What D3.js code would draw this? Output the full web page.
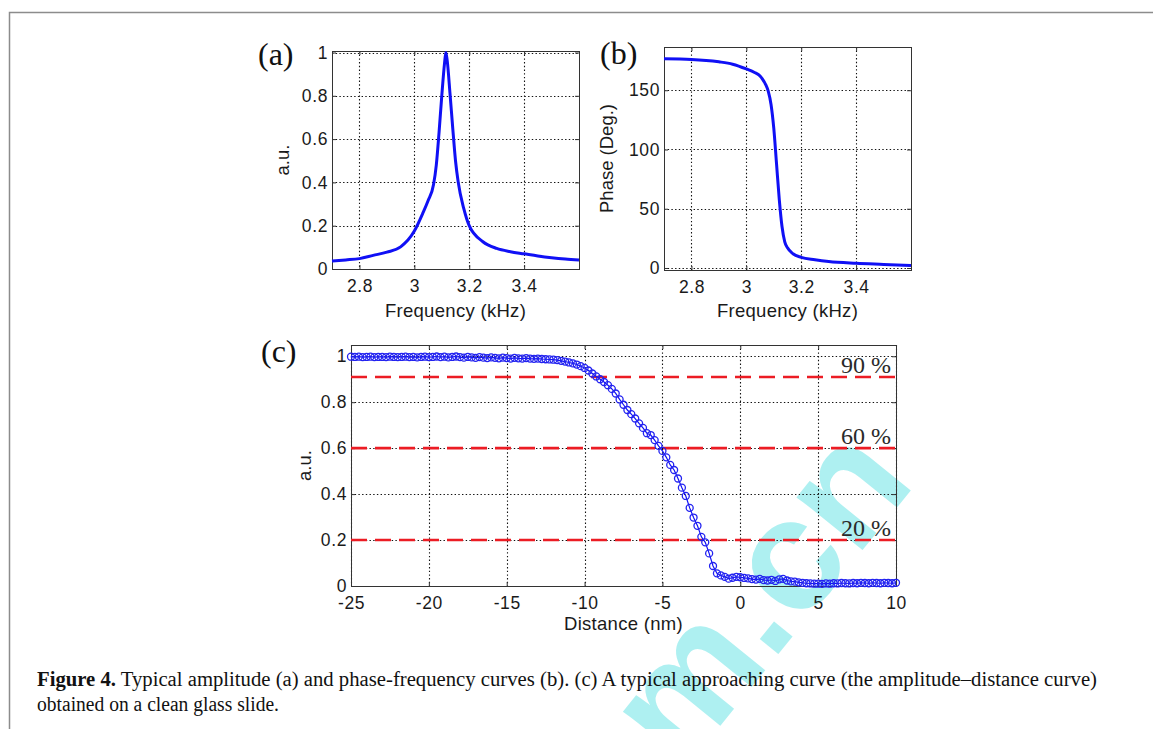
<!DOCTYPE html>
<html><head><meta charset="utf-8">
<script src="https://cdn.jsdelivr.net/npm/d3@7"></script>
<style>body{margin:0;background:#fff}svg{display:block}</style>
</head><body>
<svg id="chart" width="1153" height="729"></svg>
<script>
// ---------- data ----------
const freqA = [2.70,2.75,2.80,2.85,2.90,2.95,3.00,3.03,3.05,3.07,3.08,3.09,3.10,3.11,3.115,3.12,3.13,3.14,3.15,3.16,3.18,3.20,3.25,3.30,3.35,3.40,3.45,3.50,3.55,3.60];
const ampA  = [0.037,0.042,0.048,0.063,0.078,0.102,0.175,0.255,0.315,0.39,0.48,0.63,0.80,0.95,1.0,0.96,0.81,0.65,0.50,0.40,0.28,0.20,0.126,0.095,0.080,0.070,0.060,0.052,0.046,0.042];

const freqB  = [2.70,2.80,2.90,2.95,3.00,3.03,3.05,3.06,3.07,3.08,3.09,3.10,3.11,3.12,3.13,3.14,3.15,3.17,3.20,3.25,3.30,3.40,3.50,3.60];
const phaseB = [176.5,176,174,172,168,165,162,159,155,149,138,118,88,58,35,22,17,12,9,7,5.5,4,3,2];

const distC = [-25,-24.75,-24.5,-24.25,-24,-23.75,-23.5,-23.25,-23,-22.75,-22.5,-22.25,-22,-21.75,-21.5,-21.25,-21,-20.75,-20.5,-20.25,-20,-19.75,-19.5,-19.25,-19,-18.75,-18.5,-18.25,-18,-17.75,-17.5,-17.25,-17,-16.75,-16.5,-16.25,-16,-15.75,-15.5,-15.25,-15,-14.75,-14.5,-14.25,-14,-13.75,-13.5,-13.25,-13,-12.75,-12.5,-12.25,-12,-11.75,-11.5,-11.25,-11,-10.75,-10.5,-10.25,-10,-9.75,-9.5,-9.25,-9,-8.75,-8.5,-8.25,-8,-7.75,-7.5,-7.25,-7,-6.75,-6.5,-6.25,-6,-5.75,-5.5,-5.25,-5,-4.75,-4.5,-4.25,-4,-3.75,-3.5,-3.25,-3,-2.75,-2.5,-2.25,-2,-1.75,-1.5,-1.25,-1,-0.75,-0.5,-0.25,0,0.25,0.5,0.75,1,1.25,1.5,1.75,2,2.25,2.5,2.75,3,3.25,3.5,3.75,4,4.25,4.5,4.75,5,5.25,5.5,5.75,6,6.25,6.5,6.75,7,7.25,7.5,7.75,8,8.25,8.5,8.75,9,9.25,9.5,9.75,10];
const ampC = [
 0.998,0.997,0.998,0.996,0.997,0.998,0.996,0.997,0.997,0.996,
 0.998,0.997,0.996,0.997,0.998,0.996,0.997,0.995,0.997,0.998,
 0.996,0.997,0.999,0.996,0.998,0.995,0.997,0.999,0.996,0.994,
 0.997,0.995,0.993,0.996,0.994,0.992,0.995,0.993,0.991,0.994,
 0.992,0.990,0.993,0.991,0.990,0.992,0.990,0.989,0.990,0.988,
 0.987,0.986,0.985,0.983,0.980,0.977,0.973,0.969,0.964,0.957,
 0.949,0.938,0.925,0.912,0.900,0.888,0.874,0.858,0.838,0.812,
 0.789,0.766,0.748,0.729,0.708,0.688,0.665,0.657,0.635,0.610,
 0.588,0.560,0.527,0.505,0.468,0.428,0.392,0.340,0.298,0.262,
 0.214,0.190,0.142,0.087,0.055,0.046,0.040,0.032,0.036,0.040,
 0.038,0.035,0.033,0.030,0.028,0.031,0.026,0.024,0.027,0.022,
 0.029,0.031,0.024,0.020,0.019,0.016,0.014,0.012,0.011,0.010,
 0.010,0.009,0.011,0.010,0.012,0.011,0.013,0.012,0.011,0.013,
 0.012,0.014,0.013,0.012,0.014,0.013,0.012,0.014,0.013,0.012,
 0.014];

const freqTicks  = [2.8,3,3.2,3.4];
const ampTicks   = [0,0.2,0.4,0.6,0.8,1];
const phaseTicks = [0,50,100,150];
const distTicks  = [-25,-20,-15,-10,-5,0,5,10];
const levelValues = [0.91,0.6,0.2];
const levelLabels = ["90 %","60 %","20 %"];
const panelLabels = ["(a)","(b)","(c)"];
const captionBold = "Figure 4.";
const captionLine1 = " Typical amplitude (a) and phase-frequency curves (b). (c) A typical approaching curve (the amplitude\u2013distance curve)";
const captionLine2 = "obtained on a clean glass slide.";

// ---------- drawing ----------
const svg = d3.select("#chart");
svg.append("rect").attr("width",1153).attr("height",729).attr("fill","#fff");

// watermark
(function(){
  const g = svg.append("g").attr("transform","translate(682,773) rotate(-51)");
  g.append("text").text("m.cn")
   .attr("font-family","Liberation Sans, Arial, sans-serif").attr("font-weight","bold")
   .attr("font-size",160).attr("fill","#aef0f1");
})();

// page frame
svg.append("path").attr("d","M9.5,729 V12.5 H1153").attr("fill","none")
   .attr("stroke","#8c8c8c").attr("stroke-width",1.5);

const SANS = "Liberation Sans, Arial, sans-serif";
const SERIF = "Liberation Serif, Times New Roman, serif";
const BLUE = "#1010f5";

function panel(o){
  const x = d3.scaleLinear().domain(o.xDomain).range([o.left,o.right]);
  const y = d3.scaleLinear().domain(o.yDomain).range([o.bottom,o.top]);
  const g = svg.append("g");
  // grid
  const grid = g.append("g").attr("stroke","#111").attr("stroke-width",1.1)
    .attr("stroke-dasharray","1.4,2.3");
  grid.selectAll("line.v").data(o.xTicks).join("line").attr("class","v")
    .attr("x1",d=>Math.round(x(d))+0.5).attr("x2",d=>Math.round(x(d))+0.5)
    .attr("y1",o.top).attr("y2",o.bottom);
  grid.selectAll("line.h").data(o.yTicks).join("line").attr("class","h")
    .attr("y1",d=>Math.round(y(d))+0.5).attr("y2",d=>Math.round(y(d))+0.5)
    .attr("x1",o.left).attr("x2",o.right);
  // axes
  const fmt = d=>String(d);
  const ax = g.append("g").attr("transform",`translate(0,${o.bottom})`)
    .call(d3.axisBottom(x).tickValues(o.xTicks).tickFormat(fmt).tickSize(-4).tickPadding(10.5));
  const ay = g.append("g").attr("transform",`translate(${o.left},0)`)
    .call(d3.axisLeft(y).tickValues(o.yTicks).tickFormat(fmt).tickSize(-4).tickPadding(4));
  const at = g.append("g").attr("transform",`translate(0,${o.top})`)
    .call(d3.axisTop(x).tickValues(o.xTicks).tickFormat("").tickSize(-4));
  const ar = g.append("g").attr("transform",`translate(${o.right},0)`)
    .call(d3.axisRight(y).tickValues(o.yTicks).tickFormat("").tickSize(-4));
  [ax,ay,at,ar].forEach(a=>{
    a.select(".domain").remove();
    a.selectAll("line").attr("stroke","#333");
    a.selectAll("text").attr("font-family",SANS).attr("font-size",17.5)
      .attr("letter-spacing","0.6px").attr("fill","#1a1a1a");
  });
  // box
  g.append("rect").attr("x",o.left+0.5).attr("y",o.top+0.5)
    .attr("width",o.right-o.left).attr("height",o.bottom-o.top)
    .attr("fill","none").attr("stroke","#333").attr("stroke-width",1);
  // titles
  g.append("text").attr("x",(o.left+o.right)/2).attr("y",o.xTitleY)
    .attr("text-anchor","middle").attr("font-family",SANS).attr("font-size",18.5)
    .attr("letter-spacing","0.3px").attr("fill","#1a1a1a").text(o.xTitle);
  g.append("text").attr("transform",`translate(${o.yTitleX},${(o.top+o.bottom)/2}) rotate(-90)`)
    .attr("dy","0.35em").attr("text-anchor","middle").attr("font-family",SANS)
    .attr("font-size",18.5).attr("fill","#1a1a1a").text(o.yTitle);
  g.append("text").attr("x",o.labelX).attr("y",o.labelY)
    .attr("font-family",SERIF).attr("font-size",32).attr("fill","#111").text(o.label);
  return {x,y,g};
}

// (a)
const pa = panel({left:332,right:579,top:51,bottom:269,xDomain:[2.7,3.6],yDomain:[0,1.007],
  xTicks:freqTicks,yTicks:ampTicks,xTitle:"Frequency (kHz)",yTitle:"a.u.",
  xTitleY:317,yTitleX:283,label:panelLabels[0],labelX:258,labelY:65});
pa.g.append("path").datum(d3.zip(freqA,ampA))
  .attr("d",d3.line().x(d=>pa.x(d[0])).y(d=>pa.y(d[1])).curve(d3.curveMonotoneX))
  .attr("fill","none").attr("stroke",BLUE).attr("stroke-width",3);

// (b)
const pb = panel({left:664,right:911,top:47,bottom:270,xDomain:[2.7,3.6],yDomain:[-1.7,186.5],
  xTicks:freqTicks,yTicks:phaseTicks,xTitle:"Frequency (kHz)",yTitle:"Phase (Deg.)",
  xTitleY:317,yTitleX:607,label:panelLabels[1],labelX:600,labelY:64});
pb.g.append("path").datum(d3.zip(freqB,phaseB))
  .attr("d",d3.line().x(d=>pb.x(d[0])).y(d=>pb.y(d[1])).curve(d3.curveMonotoneX))
  .attr("fill","none").attr("stroke",BLUE).attr("stroke-width",3);

// (c)
const pc = panel({left:351,right:896,top:345,bottom:586,xDomain:[-25,10],yDomain:[0,1.049],
  xTicks:distTicks,yTicks:ampTicks,xTitle:"Distance (nm)",yTitle:"a.u.",
  xTitleY:630,yTitleX:305,label:panelLabels[2],labelX:261,labelY:362});
pc.g.selectAll("line.level").data(levelValues).join("line").attr("class","level")
  .attr("x1",pc.x(-25)).attr("x2",pc.x(10))
  .attr("y1",d=>pc.y(d)).attr("y2",d=>pc.y(d))
  .attr("stroke","#ec1c24").attr("stroke-width",2.6).attr("stroke-dasharray","16,8");
pc.g.selectAll("text.level").data(levelValues).join("text").attr("class","level")
  .attr("x",pc.x(10)-5).attr("y",d=>pc.y(d)-4)
  .attr("text-anchor","end").attr("font-family",SERIF).attr("font-size",24)
  .attr("fill","#2a2a2a").text((d,i)=>levelLabels[i]);
const ptsC = d3.zip(distC,ampC);
pc.g.append("path").datum(ptsC)
  .attr("d",d3.line().x(d=>pc.x(d[0])).y(d=>pc.y(d[1])))
  .attr("fill","none").attr("stroke",BLUE).attr("stroke-width",1.2);
pc.g.selectAll("circle").data(ptsC).join("circle")
  .attr("cx",d=>pc.x(d[0])).attr("cy",d=>pc.y(d[1])).attr("r",3.5)
  .attr("fill","none").attr("stroke","#2222f0").attr("stroke-width",1.3);

// caption
const cap1 = svg.append("text").attr("x",37).attr("y",686)
  .attr("font-family",SERIF).attr("font-size",20.5).attr("fill","#111")
  .attr("textLength",1060).attr("lengthAdjust","spacingAndGlyphs");
cap1.append("tspan").attr("font-weight","bold").text(captionBold);
cap1.append("tspan").text(captionLine1);
svg.append("text").attr("x",37).attr("y",711)
  .attr("font-family",SERIF).attr("font-size",20.5).attr("fill","#111")
  .attr("textLength",242).attr("lengthAdjust","spacingAndGlyphs").text(captionLine2);
</script>
</body></html>
